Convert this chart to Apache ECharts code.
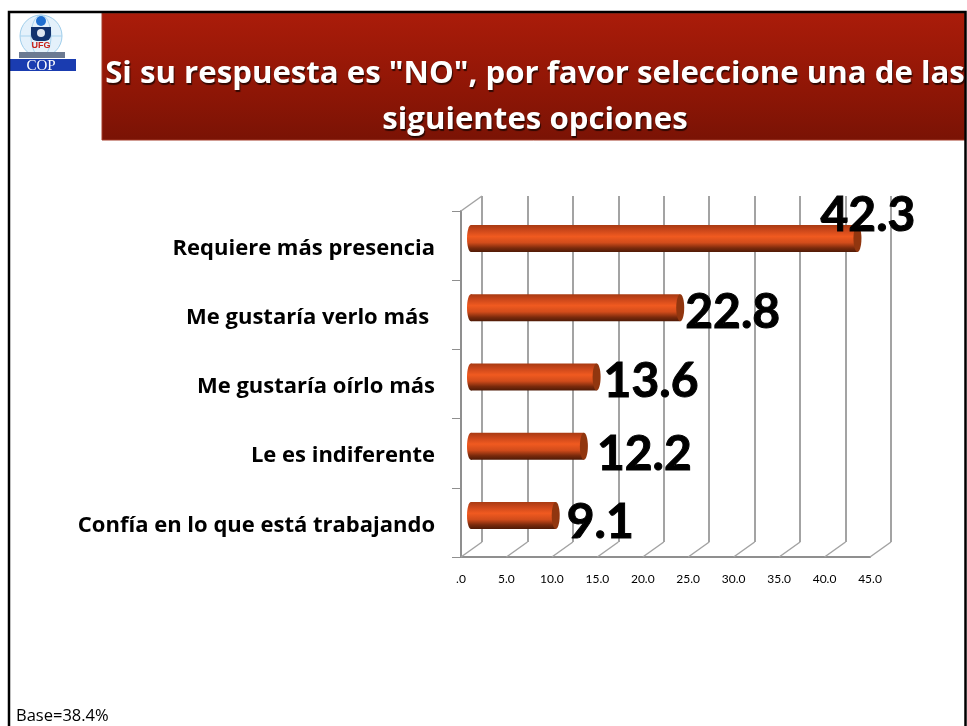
<!DOCTYPE html>
<html><head><meta charset="utf-8">
<style>html,body{margin:0;padding:0;background:#fff}#c{width:967px;height:726px}</style>
<script src="https://cdn.jsdelivr.net/npm/echarts@6/dist/echarts.min.js"></script>
</head><body><div id="c"></div>
<script>
const titleText = 'Si su respuesta es "NO", por favor seleccione una de las\nsiguientes opciones';
const baseNote = 'Base=38.4%';
const categories = ['Requiere más presencia','Me gustaría verlo más ','Me gustaría oírlo más','Le es indiferente','Confía en lo que está trabajando'];
const values = [42.3,22.8,13.6,12.2,9.1];
const xTicks = [0,5,10,15,20,25,30,35,40,45];
// hand-placed label offsets in the original, from the bar end (px)
const labelNudgeX = [-41,1,3,9,7];
const labelNudgeY = [-23,5,5,8,7];
const FONT='Lato', WIDE='Open Sans';
const G={l:461,t:211,w:409,h:346}, D={x:21,y:-15}, B={x:12,y:-7,r:13.5,cap:4};
const AX='#8f8f8f';
const chart=echarts.init(document.getElementById('c'),null,{renderer:'canvas'});
const barGrad=new echarts.graphic.LinearGradient(0,0,0,1,[
 {offset:0,color:'#a83a12'},{offset:.18,color:'#c9461a'},{offset:.42,color:'#f05a20'},{offset:.65,color:'#d24c1b'},{offset:.85,color:'#7a2a0c'},{offset:1,color:'#4f1a06'}]);
chart.setOption({
 animation:false,
 title:{text:titleText,left:530,top:46,textAlign:'center',
  textStyle:{color:'#fff',fontFamily:WIDE,fontWeight:'bold',fontSize:31.2,lineHeight:46,
   textShadowColor:'rgba(0,0,0,.65)',textShadowBlur:1,textShadowOffsetX:1,textShadowOffsetY:2}},
 graphic:[
  {type:'rect',z:-1,shape:{x:102,y:13,width:863,height:127},style:{fill:new echarts.graphic.LinearGradient(0,0,0,1,[{offset:0,color:'#aa1c0a'},{offset:.6,color:'#8f1606'},{offset:1,color:'#7a1305'}]),stroke:'#a33a28',lineWidth:1}},
  {type:'polyline',z:5,shape:{points:[[9,726],[9,12],[965.5,12],[965.5,726]]},style:{fill:null,stroke:'#000',lineWidth:2.5}},
  {type:'circle',shape:{cx:41,cy:36,r:21},style:{fill:'#e4f1fb',stroke:'#9fcdea',lineWidth:1}},
  {type:'ellipse',shape:{cx:41,cy:36,rx:10,ry:21},style:{fill:null,stroke:'#a9d3ee',lineWidth:1}},
  {type:'line',shape:{x1:20,y1:36,x2:62,y2:36},style:{stroke:'#a9d3ee',lineWidth:1}},
  {type:'circle',shape:{cx:41,cy:21,r:5},style:{fill:'#1f6fd0'}},
  {type:'rect',shape:{x:31,y:27,width:20,height:14,r:[0,0,6,6]},style:{fill:'#12336e'}},
  {type:'circle',shape:{cx:41,cy:33,r:4},style:{fill:'#dfe6ef'}},
  {type:'text',style:{x:41,y:46,text:'UFG',fill:'#c8201a',fontFamily:'Liberation Sans',fontWeight:'bold',fontSize:9,align:'center',verticalAlign:'middle'}},
  {type:'rect',shape:{x:19,y:52,width:46,height:6},style:{fill:'#6c7a92'}},
  {type:'rect',shape:{x:10,y:59,width:66,height:12},style:{fill:'#1a3cb0'}},
  {type:'text',style:{x:41,y:66,text:'COP',fill:'#fff',fontFamily:'Liberation Serif',fontSize:15,align:'center',verticalAlign:'middle'}},
  {type:'text',style:{x:16,y:716,text:baseNote,fill:'#000',fontFamily:WIDE,fontSize:16.5,verticalAlign:'middle'}}
 ],
 grid:[
  {left:G.l,top:G.t,width:G.w,height:G.h},
  {left:G.l+D.x,top:G.t+D.y,width:G.w,height:G.h}
 ],
 xAxis:[
  {gridIndex:0,type:'value',min:0,max:45,interval:5,
   axisLine:{show:true,lineStyle:{color:AX,width:2}},axisTick:{show:false},splitLine:{show:false},
   axisLabel:{margin:16,color:'#000',fontFamily:FONT,fontSize:12,formatter:v=>v===0?'.0':v.toFixed(1)}},
  {gridIndex:1,type:'value',min:0,max:45,interval:5,axisLine:{show:false},axisTick:{show:false},axisLabel:{show:false},
   splitLine:{show:true,lineStyle:{color:'#a3a3a3',width:2}}}
 ],
 yAxis:[
  {gridIndex:0,type:'category',data:categories,inverse:true,
   axisLine:{show:true,onZero:false,lineStyle:{color:AX,width:2}},axisTick:{show:true,length:9,lineStyle:{color:AX,width:1}},
   axisLabel:{margin:26,verticalAlign:'top',lineHeight:6,color:'#000',fontFamily:WIDE,fontWeight:'bold',fontSize:22}},
  {gridIndex:1,type:'category',data:categories,inverse:true,show:false}
 ],
 series:[
  {type:'custom',xAxisIndex:0,yAxisIndex:0,z:1,silent:true,
   data:xTicks.map(t=>[t,categories[categories.length-1]]),
   renderItem(p,api){const a=api.coord([api.value(0),categories.length-1]);const y=G.t+G.h;
     return {type:'line',shape:{x1:a[0],y1:y,x2:a[0]+D.x,y2:y+D.y},style:{stroke:'#a3a3a3',lineWidth:1.5}};}},
  {type:'custom',xAxisIndex:0,yAxisIndex:0,z:1,silent:true,
   data:[[0,categories[0]]],
   renderItem(p,api){const a=api.coord([0,0]);
     return {type:'line',shape:{x1:a[0],y1:G.t,x2:a[0]+D.x,y2:G.t+D.y},style:{stroke:'#a3a3a3',lineWidth:1.5}};}},
  {type:'custom',xAxisIndex:0,yAxisIndex:0,z:3,silent:true,
   encode:{x:0,y:1},
   data:values.map((v,i)=>[v,categories[i]]),
   renderItem(p,api){
     const c=api.coord([api.value(0),p.dataIndex]),o=api.coord([0,p.dataIndex]);
     const x0=o[0]+B.x-2,x1=c[0]+B.x,y=c[1]+B.y,r=B.r,k=B.cap;
     return {type:'group',children:[
       {type:'ellipse',shape:{cx:x0,cy:y,rx:k,ry:r},style:{fill:barGrad}},
       {type:'rect',shape:{x:x0,y:y-r,width:x1-x0,height:2*r},style:{fill:barGrad}},
       {type:'ellipse',shape:{cx:x1,cy:y,rx:k,ry:r},style:{fill:'#91360f'}}
     ]};}},
  {type:'custom',xAxisIndex:0,yAxisIndex:0,z:4,silent:true,
   encode:{x:0,y:1},
   data:values.map((v,i)=>[v,categories[i]]),
   renderItem(p,api){
     const i=p.dataIndex,c=api.coord([api.value(0),i]);
     return {type:'text',style:{x:c[0]+B.x+B.cap+labelNudgeX[i],y:c[1]+B.y+labelNudgeY[i],text:values[i].toFixed(1),
       fill:'#000',stroke:'#000',lineWidth:1,fontFamily:FONT,fontWeight:'bold',fontSize:48,align:'left',verticalAlign:'middle'}};}},
  {type:'scatter',xAxisIndex:1,yAxisIndex:1,data:[],silent:true}
 ]
});
</script></body></html>
